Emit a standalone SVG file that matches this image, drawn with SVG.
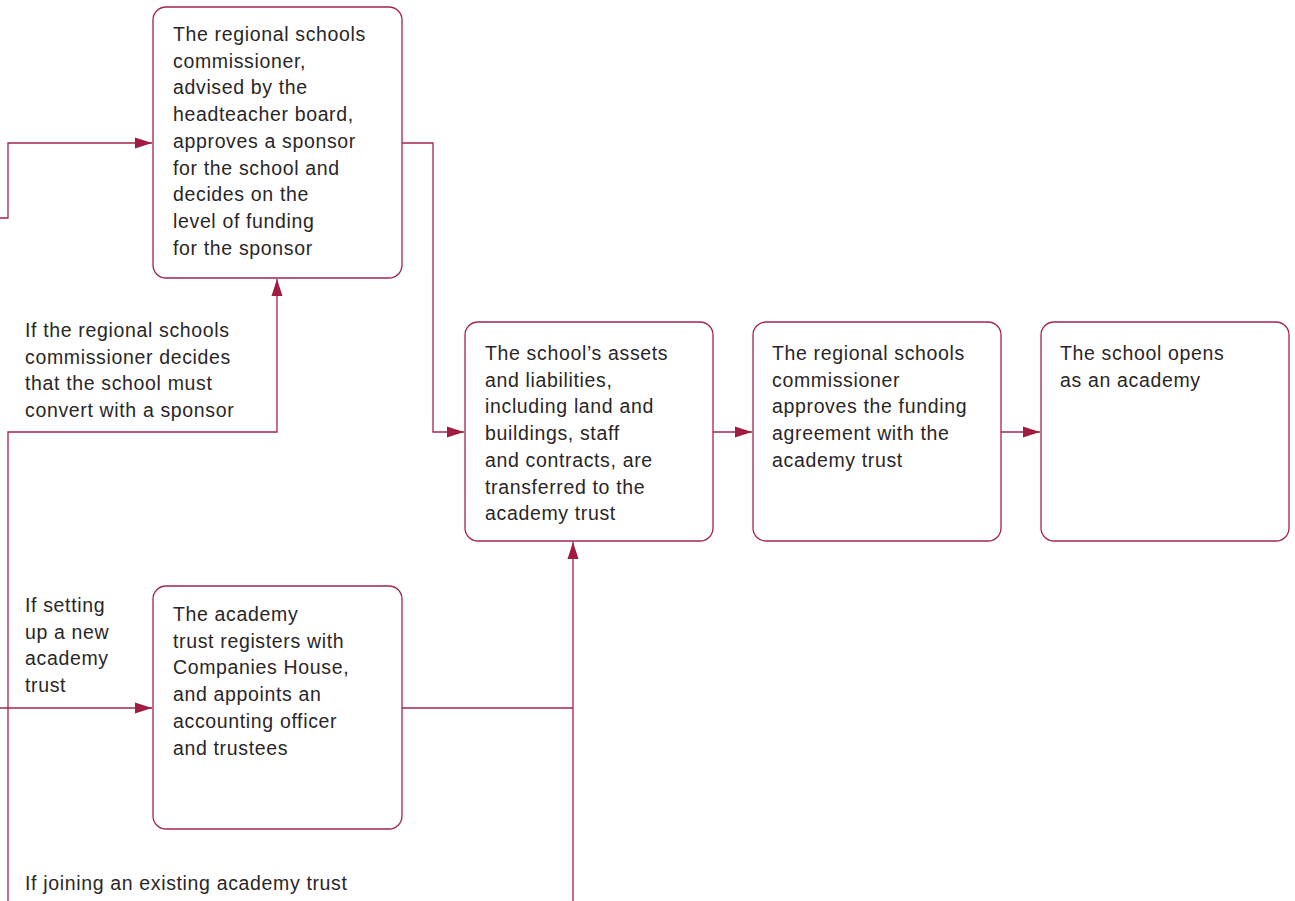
<svg xmlns="http://www.w3.org/2000/svg" width="1295" height="901" viewBox="0 0 1295 901">
<style>
.box{fill:#fff;stroke:#a3264a;stroke-width:1.3}
.ln{fill:none;stroke:#a3264a;stroke-width:1.3}
text{font-family:"Liberation Sans",Arial,sans-serif;font-size:19.5px;letter-spacing:0.65px;fill:#2a2627}
</style>
<defs>
<marker id="arr" markerWidth="17" markerHeight="12" refX="17" refY="6" orient="auto" markerUnits="userSpaceOnUse">
<path d="M0,0.5 L17,6 L0,11.5 Z" fill="#a01c42"/>
</marker>
</defs>
<rect width="1295" height="901" fill="#fff"/>
<g id="connectors">
<path class="ln" d="M0,218 H8 V143 H152" marker-end="url(#arr)"/>
<path class="ln" d="M402,143 H433 V432 H464" marker-end="url(#arr)"/>
<path class="ln" d="M713,432 H752" marker-end="url(#arr)"/>
<path class="ln" d="M1001,432 H1040" marker-end="url(#arr)"/>
<path class="ln" d="M8,901 V432 H277 V279" marker-end="url(#arr)"/>
<path class="ln" d="M0,708 H152" marker-end="url(#arr)"/>
<path class="ln" d="M402,708 H573"/>
<path class="ln" d="M573,901 V542" marker-end="url(#arr)"/>
</g>
<g id="node-commissioner-sponsor">
<rect class="box" x="153" y="7" width="249" height="271" rx="13"/>
<text x="173" y="41">The regional schools</text>
<text x="173" y="67.7">commissioner,</text>
<text x="173" y="94.4">advised by the</text>
<text x="173" y="121.1">headteacher board,</text>
<text x="173" y="147.8">approves a sponsor</text>
<text x="173" y="174.5">for the school and</text>
<text x="173" y="201.2">decides on the</text>
<text x="173" y="227.9">level of funding</text>
<text x="173" y="254.6">for the sponsor</text>
</g>
<g id="node-transfer">
<rect class="box" x="465" y="322" width="248" height="219" rx="13"/>
<text x="485" y="360">The school’s assets</text>
<text x="485" y="386.7">and liabilities,</text>
<text x="485" y="413.4">including land and</text>
<text x="485" y="440.1">buildings, staff</text>
<text x="485" y="466.8">and contracts, are</text>
<text x="485" y="493.5">transferred to the</text>
<text x="485" y="520.2">academy trust</text>
</g>
<g id="node-funding">
<rect class="box" x="753" y="322" width="248" height="219" rx="13"/>
<text x="772" y="360">The regional schools</text>
<text x="772" y="386.7">commissioner</text>
<text x="772" y="413.4">approves the funding</text>
<text x="772" y="440.1">agreement with the</text>
<text x="772" y="466.8">academy trust</text>
</g>
<g id="node-opens">
<rect class="box" x="1041" y="322" width="248" height="219" rx="13"/>
<text x="1060" y="360">The school opens</text>
<text x="1060" y="386.7">as an academy</text>
</g>
<g id="node-register">
<rect class="box" x="153" y="586" width="249" height="243" rx="13"/>
<text x="173" y="621">The academy</text>
<text x="173" y="647.7">trust registers with</text>
<text x="173" y="674.4">Companies House,</text>
<text x="173" y="701.1">and appoints an</text>
<text x="173" y="727.8">accounting officer</text>
<text x="173" y="754.5">and trustees</text>
</g>
<g id="labels">
<text x="25" y="337">If the regional schools</text>
<text x="25" y="363.7">commissioner decides</text>
<text x="25" y="390.4">that the school must</text>
<text x="25" y="417.1">convert with a sponsor</text>
<text x="25" y="612">If setting</text>
<text x="25" y="638.7">up a new</text>
<text x="25" y="665.4">academy</text>
<text x="25" y="692.1">trust</text>
<text x="25" y="890">If joining an existing academy trust</text>
</g>
</svg>
